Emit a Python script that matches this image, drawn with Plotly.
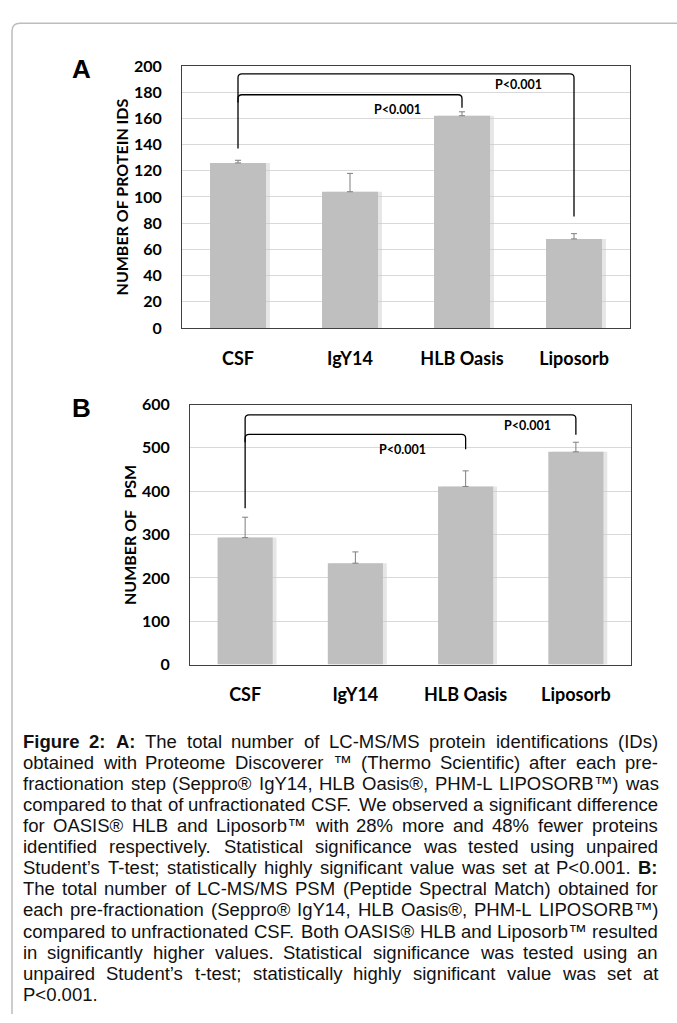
import plotly.graph_objects as go

# ---------------- data ----------------
categories = ["CSF", "IgY14", "HLB Oasis", "Liposorb"]

protein_ids = [126, 104, 162, 68]
protein_ids_err = [2, 14, 3, 4]

psm = [293, 234, 411, 491]
psm_err = [47, 26, 36, 22]

yticks_a = [0, 20, 40, 60, 80, 100, 120, 140, 160, 180, 200]
yticks_b = [0, 100, 200, 300, 400, 500, 600]

p_label = "P<0.001"
# significance brackets: (from cat, to cat, bracket level, start of left leg, end of right leg)
sig_a = [(0, 3, 194, 137, 85), (0, 2, 178, None, 168)]
sig_a_labels = [(1.42, 167), (2.5, 186)]
sig_b = [(0, 3, 576, 361, 530), (0, 2, 531, None, 497)]
sig_b_labels = [(1.43, 497), (2.56, 551)]

caption_lines = [
    "**Figure** **2:** **A:** The total number of LC-MS/MS protein identifications (IDs)",
    "obtained with Proteome Discoverer \u2122 (Thermo Scientific) after each pre-",
    "fractionation step (Seppro\u00ae IgY14, HLB Oasis\u00ae, PHM-L LIPOSORB\u2122) was",
    "compared to that of unfractionated CSF. We observed a significant difference",
    "for OASIS\u00ae HLB and Liposorb\u2122 with 28% more and 48% fewer proteins",
    "identified respectively. Statistical significance was tested using unpaired",
    "Student\u2019s T-test; statistically highly significant value was set at P<0.001. **B:**",
    "The total number of LC-MS/MS PSM (Peptide Spectral Match) obtained for",
    "each pre-fractionation (Seppro\u00ae IgY14, HLB Oasis\u00ae, PHM-L LIPOSORB\u2122)",
    "compared to unfractionated CSF. Both OASIS\u00ae HLB and Liposorb\u2122 resulted",
    "in significantly higher values. Statistical significance was tested using an",
    "unpaired Student\u2019s t-test; statistically highly significant value was set at",
    "P<0.001.",
]

# ---------------- layout helpers ----------------
W, H = 677, 1023


def px(x):
    return x / W


def py(y):
    return 1 - y / H


CHART_FONT = "Lato, 'Open Sans', sans-serif"
CAP_FONT = "'Liberation Sans', Arial, sans-serif"
BAR_COLOR = "#bfbfbf"

panels = [
    dict(xa="x", ya="y", vals=protein_ids, errs=protein_ids_err, box=(182, 57, 630, 324),
         yr=(0, 200), ticks=yticks_a, sig=sig_a, sig_labels=sig_a_labels,
         letter="A", letter_pos=(81, 60), title="NUMBER OF PROTEIN IDS", title_pos=(121, 191)),
    dict(xa="x2", ya="y2", vals=psm, errs=psm_err, box=(190, 402, 631, 667),
         yr=(0, 600), ticks=yticks_b, sig=sig_b, sig_labels=sig_b_labels,
         letter="B", letter_pos=(81, 406),
         title="NUMBER OF\u00a0\u00a0\u00a0PSM", title_pos=(129, 535)),
]

fig = go.Figure()
shapes = []
annotations = []
xpos = list(range(len(categories)))

for i, p in enumerate(panels):
    x0p, y0p, x1p, y1p = p["box"]
    # soft shadow behind the bars
    fig.add_trace(go.Bar(
        x=xpos, y=p["vals"], width=0.5, offset=-0.25 + 0.035,
        marker=dict(color="rgba(200,200,200,0.45)", line=dict(width=0)),
        xaxis=p["xa"], yaxis=p["ya"], hoverinfo="skip", showlegend=False,
    ))
    fig.add_trace(go.Bar(
        x=xpos, y=p["vals"], width=0.5, offset=-0.25,
        marker=dict(color=BAR_COLOR, line=dict(width=0)),
        error_y=dict(type="data", symmetric=False, array=p["errs"],
                     arrayminus=[0] * len(p["errs"]), color="#7f7f7f",
                     thickness=1, width=3),
        xaxis=p["xa"], yaxis=p["ya"], showlegend=False,
    ))

    n = "" if i == 0 else "2"
    fig.update_layout(**{
        "xaxis" + n: dict(
            domain=[px(x0p), px(x1p)], range=[-0.5, len(categories) - 0.5],
            tickvals=xpos, ticktext=categories, anchor="y" + n,
            showgrid=False, zeroline=False, showline=True, mirror=True,
            linecolor="#404040", linewidth=1, ticks="",
            ticklabelstandoff=14,
            tickfont=dict(family=CHART_FONT, size=18, color="#000", weight="bold"),
        ),
        "yaxis" + n: dict(
            domain=[py(y1p), py(y0p)], range=list(p["yr"]), tickvals=p["ticks"],
            anchor="x" + n, showgrid=True, gridcolor="#d9d9d9", gridwidth=1,
            zeroline=False, showline=True, mirror=True, linecolor="#404040",
            linewidth=1, ticks="", ticklabelstandoff=16,
            tickfont=dict(family=CHART_FONT, size=16, color="#000", weight="bold"),
        ),
    })

    # pixel scales for rounded bracket corners
    ppx = (x1p - x0p) / len(categories)
    ppy = (y1p - y0p) / (p["yr"][1] - p["yr"][0])
    rx, ry = 4 / ppx, 4 / ppy
    for (a, b, top, ystart, yend) in p["sig"]:
        if ystart is None:
            ystart = top - 2 * ry
        path = (f"M {a},{ystart} L {a},{top - ry} Q {a},{top} {a + rx},{top} "
                f"L {b - rx},{top} Q {b},{top} {b},{top - ry} L {b},{yend}")
        shapes.append(dict(type="path", path=path, xref=p["xa"], yref=p["ya"],
                           line=dict(color="#000", width=1.3)))
    for (lx, ly) in p["sig_labels"]:
        annotations.append(dict(x=lx, y=ly, xref=p["xa"], yref=p["ya"], text=p_label,
                                showarrow=False, xanchor="center", yanchor="middle",
                                font=dict(family=CHART_FONT, size=12.5, color="#000",
                                          weight="bold")))
    # panel letter
    annotations.append(dict(x=px(p["letter_pos"][0]), y=py(p["letter_pos"][1]),
                            xref="paper", yref="paper", text="<b>%s</b>" % p["letter"],
                            showarrow=False, xanchor="center", yanchor="middle",
                            font=dict(family=CAP_FONT, size=26, color="#000")))
    # y-axis title
    annotations.append(dict(x=px(p["title_pos"][0]), y=py(p["title_pos"][1]),
                            xref="paper", yref="paper", text=p["title"], textangle=-90,
                            showarrow=False, xanchor="center", yanchor="middle",
                            font=dict(family=CHART_FONT, size=16, color="#000",
                                      weight="bold")))

# ---------------- caption (justified, word by word) ----------------
REG = {' ': 278, '!': 278, '"': 355, '%': 889, '&': 667, "'": 191, '(': 333, ')': 333,
       ',': 278, '-': 333, '.': 278, '/': 278, ':': 278, ';': 278, '<': 584, '=': 584,
       '>': 584, 'A': 667, 'B': 667, 'C': 722, 'D': 722, 'E': 667, 'F': 611, 'G': 778,
       'H': 722, 'I': 278, 'J': 500, 'K': 667, 'L': 556, 'M': 833, 'N': 722, 'O': 778,
       'P': 667, 'Q': 778, 'R': 722, 'S': 667, 'T': 611, 'U': 722, 'V': 667, 'W': 944,
       'X': 667, 'Y': 667, 'Z': 611, 'a': 556, 'b': 556, 'c': 500, 'd': 556, 'e': 556,
       'f': 278, 'g': 556, 'h': 556, 'i': 222, 'j': 222, 'k': 500, 'l': 222, 'm': 833,
       'n': 556, 'o': 556, 'p': 556, 'q': 556, 'r': 333, 's': 500, 't': 278, 'u': 556,
       'v': 500, 'w': 722, 'x': 500, 'y': 500, 'z': 500, '\u00ae': 737, '\u2122': 1000,
       '\u2019': 222}
BOLD = {'F': 611, 'i': 278, 'g': 611, 'u': 611, 'r': 389, 'e': 556, ':': 333,
        'A': 722, 'B': 722}


def word_em(word, bold):
    table = BOLD if bold else REG
    return sum(table.get(c, 556) for c in word) / 1000.0


parsed = []
for line in caption_lines:
    words = []
    for w in line.split(" "):
        bold = w.startswith("**") and w.endswith("**")
        words.append((w.strip("*"), bold))
    parsed.append(words)

CAP_LEFT, CAP_RIGHT = 22, 657
avail = CAP_RIGHT - CAP_LEFT
natural = [sum(word_em(w, b) for w, b in ws) + 0.278 * (len(ws) - 1) for ws in parsed[:-1]]
cap_size = avail / max(natural)
LINE0, PITCH = 745, 21.5

for li, ws in enumerate(parsed):
    widths = [word_em(w, b) * cap_size for w, b in ws]
    last = li == len(parsed) - 1
    if last or len(ws) == 1:
        gap = 0.278 * cap_size
    else:
        gap = (avail - sum(widths)) / (len(ws) - 1)
    x = CAP_LEFT
    for (w, b), wd in zip(ws, widths):
        annotations.append(dict(x=px(x), y=py(LINE0 + li * PITCH), xref="paper", yref="paper",
                                text=("<b>%s</b>" % w) if b else w, showarrow=False,
                                xanchor="left", yanchor="middle", borderpad=0,
                                font=dict(family=CAP_FONT, size=cap_size, color="#111")))
        x += wd + gap

# frame line (rounded corner top-left)
shapes.append(dict(type="path", xref="paper", yref="paper",
                   path=(f"M {px(677)},{py(13.5)} L {px(20)},{py(13.5)} "
                         f"Q {px(12)},{py(13.5)} {px(12)},{py(21.5)} L {px(12)},{py(1023)}"),
                   line=dict(color="#bdbdbd", width=1.5)))

fig.update_layout(
    width=W, height=H, margin=dict(l=0, r=0, t=0, b=0),
    paper_bgcolor="white", plot_bgcolor="white", barmode="overlay",
    shapes=shapes, annotations=annotations, showlegend=False,
)

fig.write_html("out.html", config={"displayModeBar": False},
               post_script="document.body.style.margin='0';document.body.style.overflow='hidden';")
